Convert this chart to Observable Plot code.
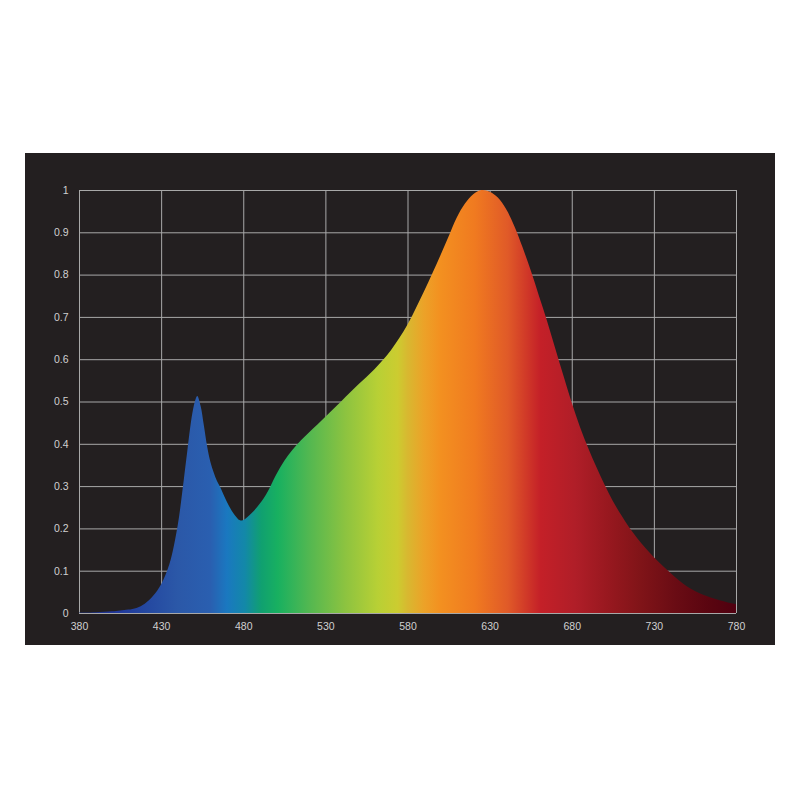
<!DOCTYPE html>
<html>
<head>
<meta charset="utf-8">
<script src="https://cdn.jsdelivr.net/npm/d3@7"></script>
<script src="https://cdn.jsdelivr.net/npm/@observablehq/plot@0.6"></script>
<style>
  html, body { margin: 0; padding: 0; background: #ffffff; }
  #chart { position: absolute; left: 25px; top: 153px; }
</style>
</head>
<body>
<div id="chart"></div>
<script>
const wavelength = [380,390,400,405,410,415,420,425,430,435,440,443,446,449,451,452,454,456,458,460,462,464,466,470,474,478,480,485,490,495,500,505,510,515,520,525,530,535,540,545,550,555,560,565,570,575,580,585,590,595,600,605,610,615,620,625,630,635,640,645,650,655,660,665,670,675,680,685,690,695,700,705,710,715,720,725,730,735,740,745,750,755,760,765,770,775,780];
const intensity  = [0.001,0.002,0.004,0.006,0.008,0.012,0.022,0.040,0.068,0.115,0.205,0.29,0.385,0.472,0.506,0.513,0.49,0.444,0.394,0.357,0.332,0.312,0.297,0.263,0.236,0.219,0.220,0.236,0.258,0.288,0.327,0.360,0.386,0.408,0.427,0.445,0.464,0.483,0.502,0.521,0.540,0.558,0.577,0.598,0.622,0.650,0.682,0.720,0.760,0.802,0.845,0.890,0.935,0.968,0.99,1.0,0.996,0.982,0.955,0.915,0.865,0.81,0.75,0.69,0.625,0.56,0.497,0.44,0.39,0.345,0.303,0.265,0.232,0.202,0.176,0.153,0.132,0.113,0.095,0.078,0.063,0.052,0.043,0.036,0.030,0.025,0.021];

const xTicks = [380,430,480,530,580,630,680,730,780];
const yTicks = [0,0.1,0.2,0.3,0.4,0.5,0.6,0.7,0.8,0.9,1];

const stopNm    = [380,400,420,440,460,470,481,491,501,521,542,562,574,580,590,600,621,641,661,682,702,722,743,763,780];
const stopColor = ["#1c2c6c","#20359a","#2447a0","#2b58a8","#2a5fb0","#1a78c0","#1388a8","#10a070","#18b060","#55b850","#8cc340","#b8d035","#cccc30","#d8b830","#eca228","#f39020","#f07a20","#e05a28","#c42028","#b01e28","#98181f","#801418","#6a0c14","#5a0510","#500010"];

const data = wavelength.map((w, i) => ({w, v: intensity[i]}));

const svg = Plot.plot({
  width: 750,
  height: 492,
  marginLeft: 54,
  marginRight: 39,
  marginTop: 37,
  marginBottom: 32,
  style: {background: "#231f20", color: "#d0d0d0", fontFamily: "Liberation Sans, Arial, sans-serif", fontSize: "10.5px"},
  x: {domain: [380, 780], ticks: xTicks, tickSize: 0, tickPadding: 9, label: null},
  y: {domain: [0, 1], ticks: yTicks, tickSize: 0, tickPadding: 11, label: null, tickFormat: d => String(+d.toFixed(1))},
  marks: [
    Plot.ruleX(xTicks, {stroke: "#a8a8a8", strokeWidth: 1}),
    Plot.ruleY(yTicks, {stroke: "#a8a8a8", strokeWidth: 1}),
    Plot.areaY(data, {x: "w", y: "v", fill: "url(#spectrum)", curve: "catmull-rom"})
  ]
});

const defs = d3.select(svg).insert("defs", ":first-child");
const grad = defs.append("linearGradient")
  .attr("id", "spectrum")
  .attr("x1", "0").attr("x2", "1").attr("y1", "0").attr("y2", "0")
  .attr("gradientUnits", "objectBoundingBox");
stopNm.forEach((nm, i) => {
  grad.append("stop")
    .attr("offset", (nm - 380) / 400)
    .attr("stop-color", stopColor[i]);
});

document.getElementById("chart").appendChild(svg);
</script>
</body>
</html>
